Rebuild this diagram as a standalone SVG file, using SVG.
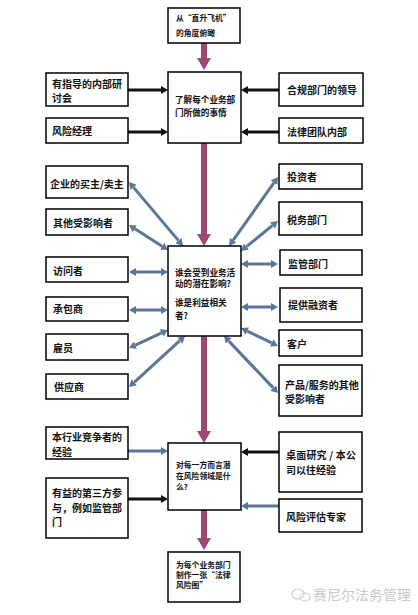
<svg xmlns="http://www.w3.org/2000/svg" width="418" height="615" viewBox="0 0 418 615">
<style>
.box{fill:#fff;stroke:#000;stroke-width:1.5}
text{font-family:"Noto Sans CJK SC","Noto Sans",sans-serif;font-weight:700;fill:#111}
.s{font-size:10px}
.c{font-size:8.6px}
.t{font-size:7.8px}
.main{stroke:#9b4a73;stroke-width:6;fill:none}
.blue{stroke:#5b7699;stroke-width:3;fill:none;marker-start:url(#bh);marker-end:url(#bh)}
.b1{stroke:#5b7699;stroke-width:3;fill:none;marker-end:url(#bh)}
.k1{stroke:#111;stroke-width:3;fill:none;marker-end:url(#kh)}
.wm{font-size:14px;font-weight:400;fill:#c9c9c9}
</style>
<defs>
<marker id="mh" viewBox="0 0 12 14" refX="0" refY="7" markerWidth="12" markerHeight="14" markerUnits="userSpaceOnUse" orient="auto"><path d="M0,0 L12,7 L0,14 z" fill="#9b4a73"/></marker>
<marker id="bh" viewBox="0 0 7 8" refX="0" refY="4" markerWidth="7" markerHeight="8" markerUnits="userSpaceOnUse" orient="auto-start-reverse"><path d="M0,0 L7,4 L0,8 z" fill="#5b7699"/></marker>
<marker id="kh" viewBox="0 0 7 8" refX="0" refY="4" markerWidth="7" markerHeight="8" markerUnits="userSpaceOnUse" orient="auto"><path d="M0,0 L7,4 L0,8 z" fill="#111"/></marker>
</defs>

<g id="connectors">
<line class="main" x1="204" y1="43" x2="204" y2="58" marker-end="url(#mh)"/>
<line class="main" x1="204" y1="143" x2="204" y2="234" marker-end="url(#mh)"/>
<line class="main" x1="204" y1="336" x2="204" y2="431" marker-end="url(#mh)"/>
<line class="main" x1="204" y1="510" x2="204" y2="538" marker-end="url(#mh)"/>

<line class="k1" x1="128" y1="90" x2="161" y2="90"/>
<line class="k1" x1="128" y1="132" x2="161" y2="132"/>
<line class="k1" x1="279" y1="90" x2="248" y2="90"/>
<line class="k1" x1="279" y1="132" x2="248" y2="132"/>

<line class="blue" x1="133.5" y1="187.4" x2="178.5" y2="240.6"/>
<line class="blue" x1="134.9" y1="228.8" x2="162.1" y2="246.2"/>
<line class="blue" x1="136" y1="272" x2="161" y2="272"/>
<line class="blue" x1="136" y1="310" x2="161" y2="310"/>
<line class="blue" x1="135.4" y1="345.1" x2="161.6" y2="332.9"/>
<line class="blue" x1="134.2" y1="382.3" x2="179.8" y2="340.7"/>
<line class="blue" x1="233.1" y1="240.3" x2="274" y2="182.7"/>
<line class="blue" x1="246.4" y1="246.6" x2="272.6" y2="225.4"/>
<line class="blue" x1="248" y1="264" x2="271" y2="264"/>
<line class="blue" x1="248" y1="307" x2="271" y2="307"/>
<line class="blue" x1="247.3" y1="331.1" x2="271.7" y2="342.9"/>
<line class="blue" x1="228.8" y1="341.1" x2="273.2" y2="387.9"/>

<line class="b1" x1="128" y1="451" x2="161" y2="451"/>
<line class="k1" x1="128" y1="499" x2="161" y2="499"/>
<line class="k1" x1="279" y1="452" x2="248" y2="452"/>
<line class="b1" x1="279" y1="506" x2="248" y2="506"/>
</g>

<g id="n-top"><rect class="box" x="168" y="8" width="72" height="35"/><text class="t" x="176" y="21">从“直升飞机”</text><text class="t" x="176" y="36">的角度俯瞰</text></g>
<g id="n-understand"><rect class="box" x="168" y="72" width="73" height="71"/><text class="c" x="175" y="103">了解每个业务部</text><text class="c" x="175" y="116">门所做的事情</text></g>
<g id="n-who"><rect class="box" x="168" y="246" width="73" height="90"/><text class="c" x="175" y="276">谁会受到业务活</text><text class="c" x="175" y="287">动的潜在影响?</text><text class="c" x="175" y="306">谁是利益相关</text><text class="c" x="175" y="319">者?</text></g>
<g id="n-risk"><rect class="box" x="168" y="443" width="73" height="67"/><text class="t" x="176" y="468">对每一方而言潜</text><text class="t" x="176" y="479">在风险领域是什</text><text class="t" x="176" y="490">么?</text></g>
<g id="n-map"><rect class="box" x="168" y="552" width="72" height="50"/><text class="t" x="176" y="568">为每个业务部门</text><text class="t" x="176" y="578">制作一张“法律</text><text class="t" x="176" y="588">风险图”</text></g>

<g id="l-seminar"><rect class="box" x="46" y="73" width="82" height="33"/><text class="s" x="52" y="87.5">有指导的内部研</text><text class="s" x="52" y="101.5">讨会</text></g>
<g id="l-riskmgr"><rect class="box" x="46" y="118" width="82" height="25"/><text class="s" x="52" y="134.5">风险经理</text></g>
<g id="l-buyer"><rect class="box" x="46" y="166" width="82" height="32"/><text class="s" x="50" y="187.5">企业的买主/卖主</text></g>
<g id="l-others"><rect class="box" x="46" y="209" width="82" height="26"/><text class="s" x="53" y="226.5">其他受影响者</text></g>
<g id="l-visitor"><rect class="box" x="46" y="257" width="82" height="25"/><text class="s" x="53" y="274.5">访问者</text></g>
<g id="l-contractor"><rect class="box" x="46" y="297" width="82" height="24"/><text class="s" x="53" y="312.5">承包商</text></g>
<g id="l-employee"><rect class="box" x="46" y="334" width="82" height="26"/><text class="s" x="53" y="351.5">雇员</text></g>
<g id="l-supplier"><rect class="box" x="46" y="374" width="82" height="25"/><text class="s" x="54" y="390.5">供应商</text></g>
<g id="l-competitor"><rect class="box" x="46" y="427" width="82" height="32"/><text class="s" x="52" y="440.5">本行业竞争者的</text><text class="s" x="52" y="455.5">经验</text></g>
<g id="l-thirdparty"><rect class="box" x="46" y="478" width="82" height="60"/><text class="s" x="52" y="496.5">有益的第三方参</text><text class="s" x="52" y="511.5">与，例如监管部</text><text class="s" x="52" y="525.5">门</text></g>

<g id="r-compliance"><rect class="box" x="279" y="73" width="84" height="33"/><text class="s" x="287" y="93.5">合规部门的领导</text></g>
<g id="r-legal"><rect class="box" x="279" y="118" width="84" height="25"/><text class="s" x="287" y="135.5">法律团队内部</text></g>
<g id="r-investor"><rect class="box" x="279" y="164" width="83" height="25"/><text class="s" x="287" y="180.5">投资者</text></g>
<g id="r-tax"><rect class="box" x="279" y="202" width="83" height="33"/><text class="s" x="287" y="223.5">税务部门</text></g>
<g id="r-regulator"><rect class="box" x="280" y="250" width="82" height="25"/><text class="s" x="288" y="267.5">监管部门</text></g>
<g id="r-financier"><rect class="box" x="280" y="288" width="82" height="34"/><text class="s" x="288" y="308.5">提供融资者</text></g>
<g id="r-customer"><rect class="box" x="279" y="330" width="83" height="26"/><text class="s" x="287" y="347.5">客户</text></g>
<g id="r-product"><rect class="box" x="279" y="365" width="83" height="51"/><text class="s" x="285" y="388.5">产品/服务的其他</text><text class="s" x="285" y="402.5">受影响者</text></g>
<g id="r-desk"><rect class="box" x="279" y="432" width="83" height="60"/><text class="s" x="286" y="458.5" textLength="70" xml:space="preserve">桌面研究 / 本公</text><text class="s" x="286" y="473.5">司以往经验</text></g>
<g id="r-expert"><rect class="box" x="279" y="499" width="83" height="33"/><text class="s" x="286" y="520.5">风险评估专家</text></g>

<g id="watermark">
<ellipse cx="298" cy="594" rx="6" ry="5" fill="none" stroke="#d0d0d0" stroke-width="1.2"/>
<ellipse cx="305" cy="597" rx="5" ry="4" fill="none" stroke="#d0d0d0" stroke-width="1.2"/>
<text class="wm" x="313" y="600">赛尼尔法务管理</text>
</g>
</svg>
